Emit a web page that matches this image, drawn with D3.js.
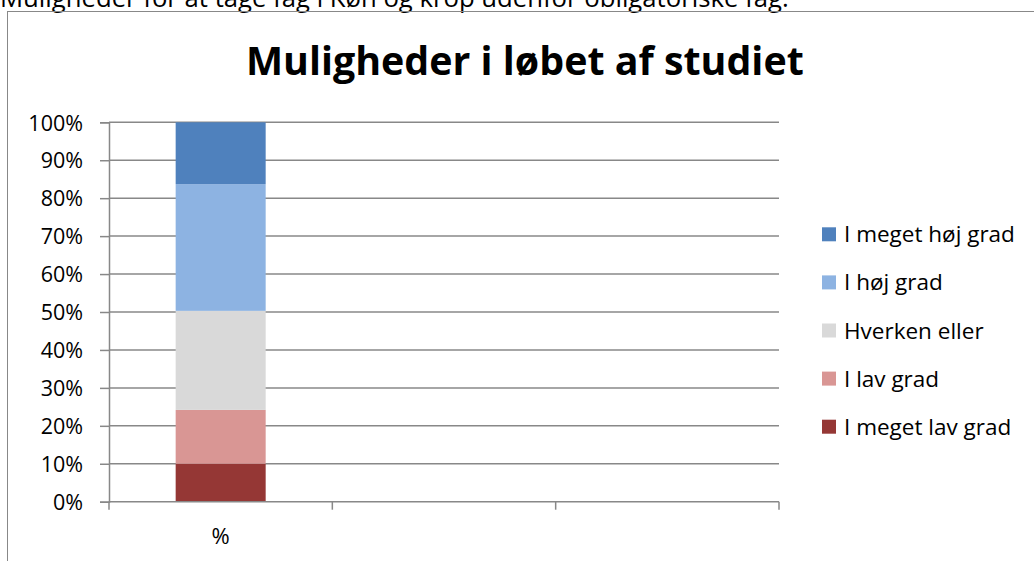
<!DOCTYPE html>
<html>
<head>
<meta charset="utf-8">
<script src="https://cdn.jsdelivr.net/npm/d3@7"></script>
<style>
  html, body { margin: 0; padding: 0; background: #fff; overflow: hidden; }
  svg { display: block; font-family: "Open Sans", sans-serif; }
</style>
</head>
<body>
<svg id="chart" width="1034" height="561"></svg>
<script>
// data
const headerText = "Muligheder for at tage fag i Køn og krop udenfor obligatoriske fag.";
const titleText  = "Muligheder i løbet af studiet";
const categories = ["%", " ", "  "];           // 3 slots, only the first has data
const seriesNames  = ["I meget lav grad", "I lav grad", "Hverken eller", "I høj grad", "I meget høj grad"];
const seriesValues = [10.0, 14.2, 26.1, 33.4, 16.3]; // % of first category
const seriesColors = ["#953735", "#d99694", "#d9d9d9", "#8db3e2", "#4f81bd"];
const yTicks = [0, 10, 20, 30, 40, 50, 60, 70, 80, 90, 100];

const svg = d3.select("#chart");
const grey = "#888";

// header text from the page above the chart (cut off at top, as in the source)
const header = svg.append("text")
  .attr("x", 0).attr("y", 7)
  .attr("font-size", 22).attr("fill", "#000")
  .text(headerText);
// fit to ~789px wide like the reference
const hw = header.node().getComputedTextLength();
header.attr("font-size", 22 * 789 / hw);

// chart border (runs off the page right & bottom)
svg.append("rect")
  .attr("x", 7.5).attr("y", 11.5)
  .attr("width", 1100).attr("height", 600)
  .attr("fill", "none").attr("stroke", grey).attr("stroke-width", 1);

// title
const title = svg.append("text")
  .attr("x", 246).attr("y", 75)
  .attr("font-size", 42).attr("font-weight", "bold").attr("fill", "#000")
  .text(titleText);
const tw = title.node().getComputedTextLength();
title.attr("font-size", 42 * 558 / tw);

const plotL = 109, plotR = 779, plotT = 122.3, plotB = 501.7;

const y = d3.scaleLinear().domain([0, 100]).range([plotB, plotT]);
const x = d3.scaleBand().domain(categories).range([plotL, plotR])
  .paddingInner(0.597).paddingOuter(0.597 / 2);

// gridlines
svg.append("g").selectAll("line")
  .data(yTicks.filter(d => d > 0))
  .join("line")
    .attr("x1", plotL).attr("x2", plotR)
    .attr("y1", d => y(d)).attr("y2", d => y(d))
    .attr("stroke", grey).attr("stroke-width", 1.5);

// stacked bar
let cum = 0;
const stackData = seriesValues.map((v, i) => {
  const d = {name: seriesNames[i], color: seriesColors[i], y0: cum, y1: cum + v};
  cum += v;
  return d;
});
svg.append("g").selectAll("rect")
  .data(stackData)
  .join("rect")
    .attr("x", x(categories[0]))
    .attr("width", x.bandwidth())
    .attr("y", d => y(d.y1))
    .attr("height", d => y(d.y0) - y(d.y1))
    .attr("fill", d => d.color);

// y axis
const yAxis = svg.append("g")
  .attr("transform", `translate(${plotL},0)`)
  .call(d3.axisLeft(y).tickValues(yTicks).tickSize(9).tickPadding(17).tickFormat(d => d + "%"));
yAxis.select(".domain").attr("stroke", grey).attr("stroke-width", 1.5);
yAxis.selectAll(".tick line").attr("stroke", grey).attr("stroke-width", 1.5);
yAxis.selectAll(".tick text")
  .attr("font-family", "Open Sans").attr("font-size", 21.5).attr("fill", "#000")
  .attr("dy", "0.36em");

// x axis
const xEdges = d3.range(categories.length + 1).map(i => plotL + i * x.step());
svg.append("line")
  .attr("x1", plotL).attr("x2", plotR).attr("y1", plotB).attr("y2", plotB)
  .attr("stroke", grey).attr("stroke-width", 1.5);
svg.append("g").selectAll("line")
  .data(xEdges)
  .join("line")
    .attr("x1", d => d).attr("x2", d => d)
    .attr("y1", plotB).attr("y2", plotB + 8)
    .attr("stroke", grey).attr("stroke-width", 1.5);
svg.append("g").selectAll("text")
  .data(categories)
  .join("text")
    .attr("x", d => x(d) + x.bandwidth() / 2)
    .attr("y", 544)
    .attr("text-anchor", "middle")
    .attr("font-size", 22).attr("fill", "#000")
    .text(d => d.trim());

// legend (top = last series)
const legend = svg.append("g").selectAll("g")
  .data(stackData.slice().reverse())
  .join("g")
    .attr("transform", (d, i) => `translate(822,${234.3 + i * 48.1})`);
legend.append("rect")
  .attr("x", 0).attr("y", -7).attr("width", 14).attr("height", 14)
  .attr("fill", d => d.color);
legend.append("text")
  .attr("x", 22).attr("y", 8)
  .attr("font-size", 22.5).attr("fill", "#000")
  .text(d => d.name);
</script>
</body>
</html>
